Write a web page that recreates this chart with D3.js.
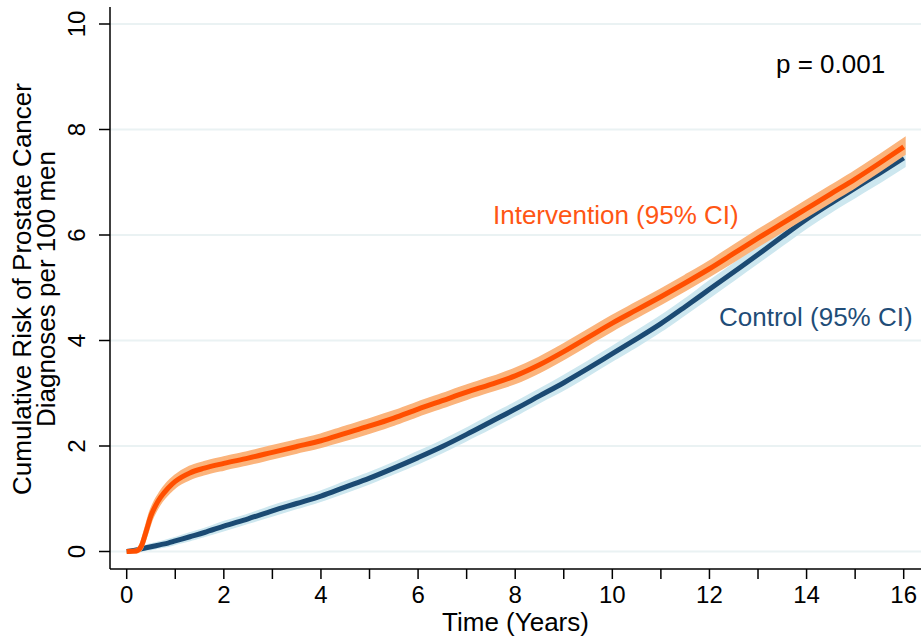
<!DOCTYPE html>
<html>
<head>
<meta charset="utf-8">
<script src="https://cdn.jsdelivr.net/npm/d3@7"></script>
<style>
  html, body { margin: 0; padding: 0; background: #fff; }
  svg { display: block; font-family: "Liberation Sans", Arial, Helvetica, sans-serif; }
</style>
</head>
<body>
<svg id="chart" width="921" height="637"></svg>
<script>
// Follow-up time grid (years)
const years = [0, 0.2, 0.3, 0.4, 0.5, 0.6, 0.7, 0.85, 1, 1.3, 1.6, 2, 2.5, 3, 3.5, 4, 4.5, 5, 5.5, 6,
               6.5, 7, 7.5, 8, 8.5, 9, 9.5, 10, 10.5, 11, 11.5, 12, 12.5, 13, 13.5, 14, 14.5, 15, 15.5, 16];

// Cumulative risk per 100 men, intervention arm
const intervention = [0, 0.01, 0.1, 0.38, 0.68, 0.88, 1.03, 1.2, 1.33, 1.49, 1.58, 1.67, 1.77, 1.88, 1.99, 2.1, 2.24, 2.38, 2.53, 2.7,
                      2.86, 3.02, 3.17, 3.33, 3.54, 3.79, 4.06, 4.33, 4.58, 4.83, 5.09, 5.36, 5.65, 5.94, 6.22, 6.5, 6.78, 7.06, 7.36, 7.67];
// 95% CI half-width, intervention arm
const interventionCI = [0, 0.01, 0.03, 0.05, 0.07, 0.08, 0.08, 0.09, 0.09, 0.1, 0.1, 0.1, 0.1, 0.1, 0.1, 0.1, 0.11, 0.11, 0.11, 0.11,
                        0.11, 0.11, 0.11, 0.12, 0.12, 0.12, 0.12, 0.12, 0.12, 0.12, 0.12, 0.12, 0.13, 0.13, 0.13, 0.13, 0.13, 0.13, 0.13, 0.13];

// Cumulative risk per 100 men, control arm
const control = [0, 0.03, 0.05, 0.07, 0.09, 0.11, 0.13, 0.16, 0.2, 0.28, 0.36, 0.48, 0.62, 0.77, 0.91, 1.05, 1.22, 1.39, 1.58, 1.78,
                 1.99, 2.22, 2.46, 2.7, 2.95, 3.2, 3.47, 3.75, 4.03, 4.32, 4.64, 4.97, 5.3, 5.63, 5.97, 6.3, 6.6, 6.89, 7.17, 7.46];
// 95% CI half-width, control arm
const controlCI = [0, 0.01, 0.02, 0.02, 0.03, 0.03, 0.03, 0.04, 0.04, 0.05, 0.05, 0.06, 0.06, 0.07, 0.07, 0.07, 0.08, 0.08, 0.08, 0.09,
                   0.09, 0.09, 0.1, 0.1, 0.1, 0.11, 0.11, 0.11, 0.12, 0.12, 0.12, 0.13, 0.13, 0.13, 0.14, 0.14, 0.14, 0.15, 0.15, 0.15];

const xTicks = [0, 2, 4, 6, 8, 10, 12, 14, 16];
const xMinorTicks = [1, 3, 5, 7, 9, 11, 13, 15];
const yTicks = [0, 2, 4, 6, 8, 10];

const labels = {
  intervention: "Intervention (95% CI)",
  control: "Control (95% CI)",
  pValue: "p = 0.001",
  xTitle: "Time (Years)",
  yTitle: ["Cumulative Risk of Prostate Cancer", "Diagnoses per 100 men"]
};

const colors = {
  interventionLine: "#ff4f00",
  interventionBand: "#fbb47c",
  interventionText: "#ff5614",
  controlLine: "#1b4a73",
  controlBand: "#cde7ef",
  controlText: "#1f4d78",
  grid: "#eaf2f3",
  axis: "#000"
};

const svg = d3.select("#chart");

const axisX = 110, axisY = 569;
const x = d3.scaleLinear().domain([0, 16]).range([126.7, 903.7]);
const y = d3.scaleLinear().domain([0, 10]).range([551.5, 24]);

// Grid lines
svg.append("g").selectAll("line").data(yTicks).join("line")
  .attr("x1", axisX).attr("x2", 921)
  .attr("y1", d => y(d)).attr("y2", d => y(d))
  .attr("stroke", colors.grid).attr("stroke-width", 2);

function series(values, ci) {
  return years.map((t, i) => ({ t, v: values[i], lo: Math.max(0, values[i] - ci[i]), hi: values[i] + ci[i] }));
}
const dataI = series(intervention, interventionCI);
const dataC = series(control, controlCI);

const curve = d3.curveMonotoneX;
const band = d3.area().x(d => x(d.t)).y0(d => y(d.lo)).y1(d => y(d.hi)).curve(curve);
const line = d3.line().x(d => x(d.t)).y(d => y(d.v)).curve(curve);

// Control arm: CI band then estimate
svg.append("path").datum(dataC).attr("d", band)
  .attr("fill", colors.controlBand).attr("stroke", colors.controlBand).attr("stroke-width", 4);
svg.append("path").datum(dataC).attr("d", line)
  .attr("fill", "none").attr("stroke", colors.controlLine).attr("stroke-width", 5);

// Intervention arm: CI band then estimate
svg.append("path").datum(dataI).attr("d", band)
  .attr("fill", colors.interventionBand).attr("stroke", colors.interventionBand).attr("stroke-width", 4);
svg.append("path").datum(dataI).attr("d", line)
  .attr("fill", "none").attr("stroke", colors.interventionLine).attr("stroke-width", 5);

// X axis
const gx = svg.append("g").attr("transform", `translate(0,${axisY})`);
gx.append("line").attr("x1", axisX).attr("x2", 921).attr("stroke", colors.axis).attr("stroke-width", 1.5);
gx.selectAll("line.tick").data(xTicks.concat(xMinorTicks)).join("line")
  .attr("class", "tick")
  .attr("x1", d => x(d)).attr("x2", d => x(d))
  .attr("y1", 0).attr("y2", 10)
  .attr("stroke", colors.axis).attr("stroke-width", 1.5);
gx.selectAll("text").data(xTicks).join("text")
  .attr("x", d => x(d)).attr("y", 34)
  .attr("text-anchor", "middle")
  .attr("font-size", 24)
  .text(d => d);

// Y axis
const gy = svg.append("g").attr("transform", `translate(${axisX},0)`);
gy.append("line").attr("y1", 7).attr("y2", axisY).attr("stroke", colors.axis).attr("stroke-width", 1.5);
gy.selectAll("line.tick").data(yTicks).join("line")
  .attr("class", "tick")
  .attr("x1", -11).attr("x2", 0)
  .attr("y1", d => y(d)).attr("y2", d => y(d))
  .attr("stroke", colors.axis).attr("stroke-width", 1.5);
gy.selectAll("text").data(yTicks).join("text")
  .attr("transform", d => `translate(-25,${y(d)}) rotate(-90)`)
  .attr("text-anchor", "middle")
  .attr("font-size", 24)
  .text(d => d);

// Axis titles
svg.append("text")
  .attr("x", 515.5).attr("y", 631)
  .attr("text-anchor", "middle").attr("font-size", 26)
  .text(labels.xTitle);

const yt = svg.append("text")
  .attr("transform", "translate(0,289) rotate(-90)")
  .attr("text-anchor", "middle").attr("font-size", 26);
yt.append("tspan").attr("x", 0).attr("y", 31).text(labels.yTitle[0]);
yt.append("tspan").attr("x", 0).attr("y", 55).text(labels.yTitle[1]);

// Series labels and test result
svg.append("text").attr("x", 493).attr("y", 224).attr("font-size", 26)
  .attr("fill", colors.interventionText).text(labels.intervention);
svg.append("text").attr("x", 719).attr("y", 326).attr("font-size", 26)
  .attr("fill", colors.controlText).text(labels.control);
svg.append("text").attr("x", 776).attr("y", 73).attr("font-size", 26)
  .attr("fill", "#000").text(labels.pValue);
</script>
</body>
</html>
